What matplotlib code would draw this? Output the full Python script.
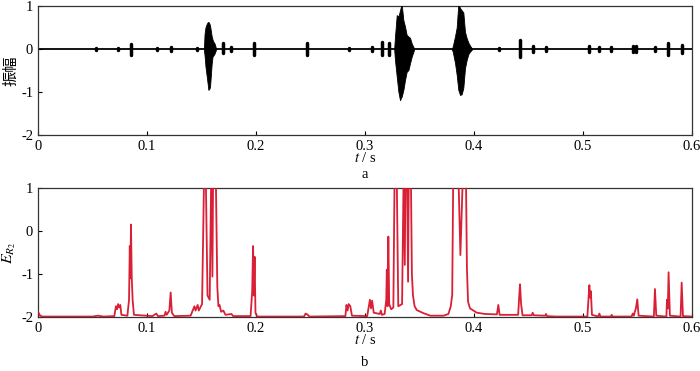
import matplotlib
matplotlib.use("Agg")
import matplotlib.pyplot as plt

plt.rcParams["font.family"] = ["Liberation Serif", "Noto Sans CJK SC"]
plt.rcParams["mathtext.fontset"] = "stix"
plt.rcParams["axes.unicode_minus"] = False

# ---------------------------------------------------------------------------
# (a) waveform: small bursts (centre, upper, lower) and three large bursts
# ---------------------------------------------------------------------------
small_t  = [0.053, 0.073, 0.0853, 0.109, 0.1217, 0.1456, 0.170, 0.177, 0.198,
            0.2465, 0.285, 0.306, 0.316, 0.322, 0.4225, 0.442, 0.4538, 0.466,
            0.5058, 0.515, 0.526, 0.546, 0.549, 0.566, 0.578, 0.5905]
small_up = [0.02, 0.02, 0.12, 0.02, 0.04, 0.03, 0.13, 0.05, 0.13,
            0.14, 0.03, 0.04, 0.17, 0.15, 0.03, 0.20, 0.06, 0.04,
            0.08, 0.05, 0.04, 0.07, 0.07, 0.05, 0.13, 0.09]
small_lo = [-0.02, -0.02, -0.14, -0.02, -0.04, -0.03, -0.10, -0.05, -0.13,
            -0.14, -0.03, -0.04, -0.14, -0.15, -0.03, -0.18, -0.06, -0.04,
            -0.08, -0.05, -0.04, -0.07, -0.07, -0.05, -0.13, -0.09]

burst1_t  = [0.1522, 0.1528, 0.1536, 0.1547, 0.1556, 0.1563, 0.1571, 0.1578,
             0.1586, 0.1593, 0.1601, 0.1609, 0.1617, 0.1624, 0.1632]
burst1_up = [0.02, 0.35, 0.50, 0.58, 0.62, 0.63, 0.60, 0.55,
             0.42, 0.30, 0.22, 0.17, 0.14, 0.10, 0.02]
burst1_lo = [-0.02, -0.15, -0.40, -0.62, -0.80, -0.95, -0.93, -0.88,
             -0.60, -0.35, -0.18, -0.15, -0.12, -0.08, -0.02]

burst2_t  = [0.3268, 0.3275, 0.3291, 0.3306, 0.3321, 0.3336, 0.3352, 0.3367,
             0.3382, 0.3398, 0.3413, 0.3428, 0.3443, 0.3450]
burst2_up = [0.02, 0.29, 0.79, 0.75, 0.90, 1.05, 0.67, 0.52,
             0.33, 0.29, 0.26, 0.13, 0.05, 0.02]
burst2_lo = [-0.02, -0.26, -0.64, -0.99, -1.19, -1.11, -0.95, -0.72,
             -0.53, -0.49, -0.33, -0.18, -0.07, -0.02]

burst3_t  = [0.3797, 0.3804, 0.3826, 0.3841, 0.3856, 0.3872, 0.3887, 0.3902,
             0.3917, 0.3933, 0.3948, 0.3963, 0.3979]
burst3_up = [0.02, 0.05, 0.30, 0.50, 1.05, 0.95, 0.90, 0.85,
             0.40, 0.25, 0.15, 0.08, 0.02]
burst3_lo = [-0.02, -0.05, -0.33, -0.60, -0.95, -1.07, -1.05, -0.90,
             -0.45, -0.25, -0.12, -0.06, -0.02]

# ---------------------------------------------------------------------------
# (b) E_R2 curve
# ---------------------------------------------------------------------------
er_t = [0.000, 0.002, 0.004, 0.050, 0.055, 0.060, 0.070, 0.0715, 0.0725, 0.0735,
        0.0745, 0.0755, 0.0765, 0.082, 0.0835, 0.0842, 0.0847, 0.0853, 0.0860, 0.0868,
        0.088, 0.105, 0.1085, 0.110, 0.116, 0.117, 0.118, 0.1205, 0.1217, 0.1228,
        0.125, 0.140, 0.1435, 0.1445, 0.1465, 0.1475, 0.1505, 0.1525, 0.1538, 0.1555,
        0.1575, 0.1590, 0.1600, 0.1607, 0.1630, 0.1645, 0.1655, 0.1665, 0.1680, 0.170,
        0.172, 0.1775, 0.179, 0.195, 0.1965, 0.1973, 0.1980, 0.1987, 0.1995, 0.201,
        0.244, 0.2455, 0.2475, 0.249, 0.282, 0.2830, 0.2840, 0.2850, 0.2865, 0.2880,
        0.302, 0.3035, 0.3045, 0.3055, 0.3065, 0.3080, 0.3135, 0.3145, 0.3155, 0.318,
        0.3195, 0.3200, 0.3207, 0.3214, 0.3222, 0.3240, 0.3260, 0.3272, 0.3290, 0.3305,
        0.3340, 0.3355, 0.3365, 0.3372, 0.3385, 0.3395, 0.3402, 0.3420, 0.3430, 0.3440,
        0.3455, 0.3475, 0.3535, 0.3600, 0.3720, 0.3765, 0.3786, 0.3800, 0.3810, 0.3855,
        0.3875, 0.3900, 0.3925, 0.3935, 0.3945, 0.3963, 0.4025, 0.410, 0.421, 0.4223,
        0.4235, 0.4405, 0.4415, 0.4422, 0.4432, 0.4445, 0.453, 0.4538, 0.4548, 0.4655,
        0.466, 0.467, 0.475, 0.504, 0.5050, 0.5058, 0.5065, 0.5072, 0.5082, 0.5140,
        0.5150, 0.5160, 0.5255, 0.5263, 0.5272, 0.5445, 0.5456, 0.5465, 0.5485, 0.5498,
        0.5510, 0.5650, 0.5660, 0.5672, 0.5765, 0.5770, 0.5778, 0.5785, 0.5797, 0.5895,
        0.5905, 0.5917, 0.600]
er_v = [-1.88, -1.97, -1.99, -1.99, -1.97, -1.99, -1.98, -1.75, -1.82, -1.70,
        -1.78, -1.72, -1.95, -1.97, -1.60, -0.35, -1.10, 0.15, -1.10, -1.60,
        -1.95, -1.98, -1.92, -1.98, -1.97, -1.88, -1.95, -1.85, -1.43, -1.90,
        -1.98, -1.97, -1.75, -1.85, -1.72, -1.85, -1.70, 1.50, 1.50, -1.50,
        -1.60, 1.50, -1.06, 1.50, 1.50, -1.30, -1.75, -1.72, -1.88, -1.85,
        -1.95, -1.93, -1.98, -1.98, -1.40, -0.35, -1.50, -0.60, -1.90, -1.99,
        -1.99, -1.92, -1.95, -1.99, -1.98, -1.72, -1.85, -1.70, -1.75, -1.97,
        -1.98, -1.75, -1.60, -1.80, -1.62, -1.90, -1.93, -1.85, -1.95, -1.93,
        -1.60, -0.90, -1.75, -0.13, -1.70, -1.82, -1.78, 1.50, 1.50, -1.75,
        -1.70, 1.50, -0.79, 1.50, 1.50, -1.18, 1.50, 1.50, -1.00, -1.50,
        -1.75, -1.84, -1.91, -1.97, -1.97, -1.93, -1.76, -1.49, 1.50, 1.50,
        -0.56, 1.50, 1.50, -0.86, -1.64, -1.80, -1.90, -1.93, -1.94, -1.72,
        -1.95, -1.95, -1.50, -1.24, -1.70, -1.96, -1.96, -1.90, -1.96, -1.97,
        -1.93, -1.98, -1.99, -1.99, -1.60, -1.26, -1.55, -1.40, -1.95, -1.99,
        -1.92, -1.99, -1.99, -1.95, -1.99, -1.99, -1.92, -1.97, -1.80, -1.59,
        -1.97, -1.99, -1.35, -1.97, -1.99, -1.60, -1.80, -0.96, -1.97, -1.99,
        -1.20, -1.98, -1.99]

x_ticks = [0, 0.1, 0.2, 0.3, 0.4, 0.5, 0.6]
x_ticklabels = ["0", "0.1", "0.2", "0.3", "0.4", "0.5", "0.6"]
y_ticks = [-2, -1, 0, 1]

RED = "#d7142b"
FS = 10.5

fig = plt.figure(figsize=(7.0, 3.71), dpi=100)
ax1 = fig.add_axes([0.0543, 0.6361, 0.9343, 0.3477])
ax2 = fig.add_axes([0.0543, 0.1456, 0.9343, 0.3477])

# --- panel a ---
ax1.axhline(0, color="black", linewidth=1.3, zorder=2)
for bt, bu, bl in [(burst1_t, burst1_up, burst1_lo),
                   (burst2_t, burst2_up, burst2_lo),
                   (burst3_t, burst3_up, burst3_lo)]:
    ax1.fill_between(bt, bl, bu, color="black", linewidth=0.6,
                     edgecolor="black", zorder=3)
blobs = ax1.vlines(small_t, small_lo, small_up, color="black",
                   linewidth=2.5, zorder=3)
blobs.set_capstyle("round")

# --- panel b ---
ax2.plot(er_t, er_v, color=RED, linewidth=1.3, alpha=0.95, zorder=3)

for ax in (ax1, ax2):
    ax.set_xlim(0, 0.6)
    ax.set_ylim(-2, 1)
    ax.set_xticks(x_ticks)
    ax.set_xticklabels(x_ticklabels)
    ax.set_yticks(y_ticks)
    ax.tick_params(direction="in", length=3, width=0.8, labelsize=FS,
                   top=False, right=False, pad=3.5)
    for sp in ax.spines.values():
        sp.set_color("#333333")
        sp.set_linewidth(0.9)
    ax.set_xlabel(r"$t$ / s", fontsize=FS, labelpad=-1)

ax1.set_ylabel("振幅", fontsize=FS + 0.5, family=["Noto Sans CJK SC"], labelpad=1)
ax2.set_ylabel(r"$E_{R_2}$", fontsize=FS + 1, labelpad=2)

fig.text(0.5214, 0.530, "a", ha="center", va="center", fontsize=FS)
fig.text(0.5214, 0.024, "b", ha="center", va="center", fontsize=FS)

fig.savefig("out.png", dpi=100)
